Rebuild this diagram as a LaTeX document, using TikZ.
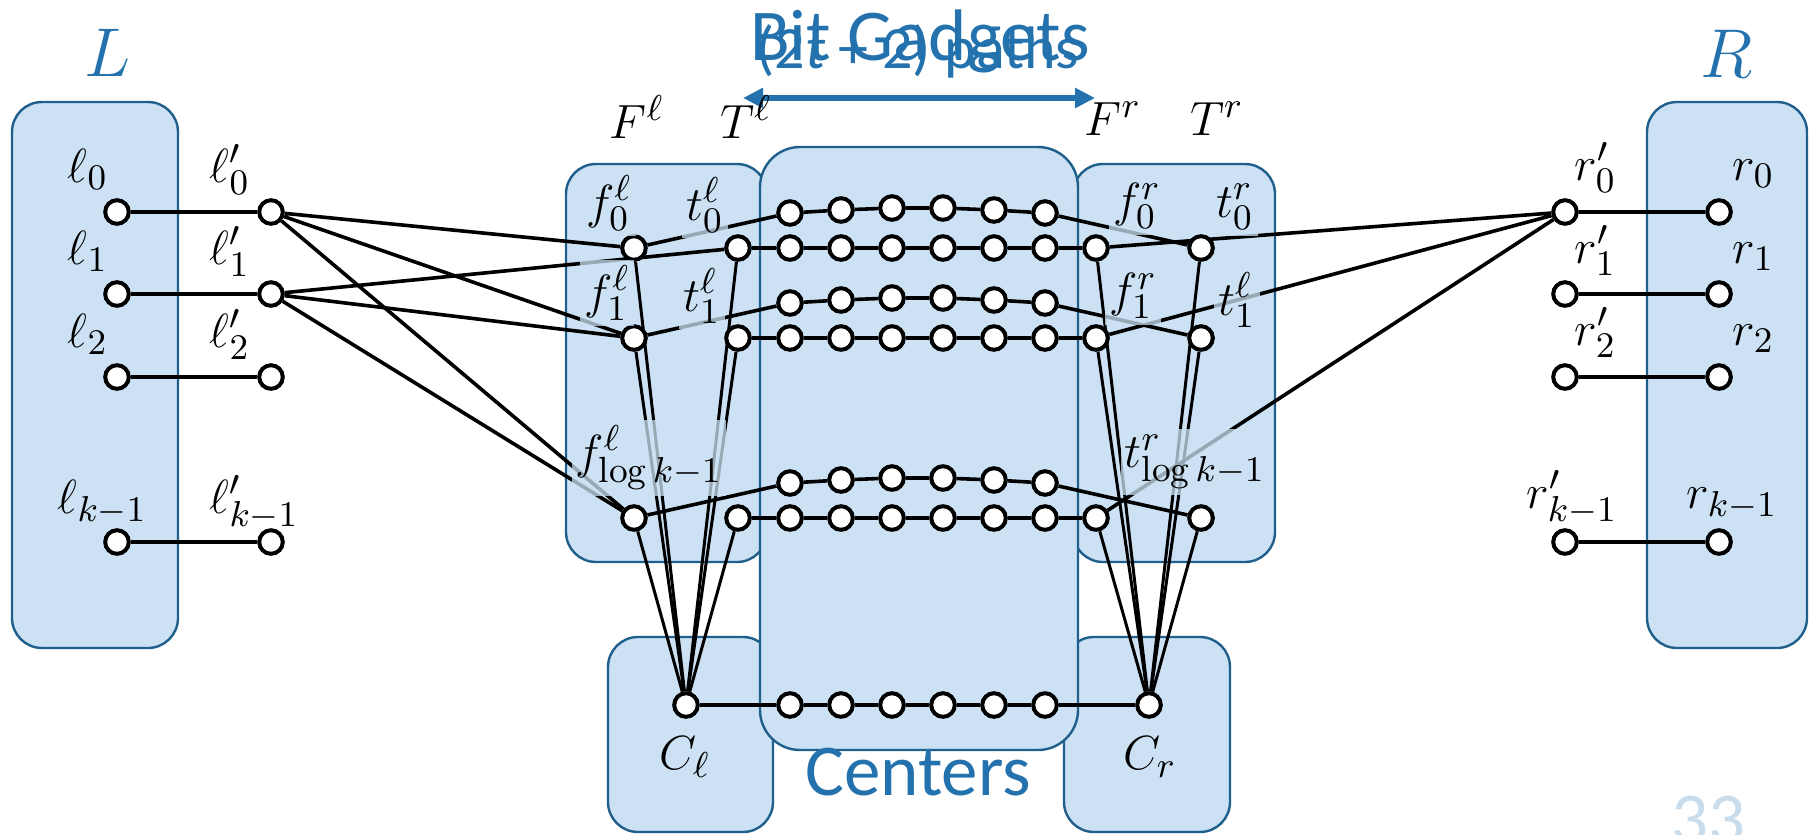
\documentclass[tikz,border=0pt]{standalone}
\usepackage{fontspec}
\newfontfamily\carlito{Carlito}
\usetikzlibrary{arrows.meta}
\definecolor{boxfill}{RGB}{204,226,244}
\definecolor{boxline}{RGB}{31,95,139}
\definecolor{textblue}{RGB}{35,114,173}
\definecolor{pageno}{RGB}{200,220,235}
\pgfdeclarelayer{bg}
\pgfdeclarelayer{wires}
\pgfsetlayers{bg,wires,main}

\begin{document}
\begin{tikzpicture}[x=0.25pt, y=-0.25pt,
      dot/.style={circle, draw, fill=white, line width=1pt, minimum size=5.9pt, inner sep=0pt},
      wire/.style={line width=0.9pt},
      fan/.style={line width=0.75pt},
      group/.style={draw=boxline, fill=boxfill, line width=0.6pt, rounded corners=7.5pt},
      lab/.style={font=\fontsize{13}{15}\selectfont, inner sep=0pt},
      tag/.style={lab, fill=boxfill, fill opacity=0.75, text opacity=1, inner xsep=1pt, inner ysep=1.5pt},
      title/.style={font=\carlito\fontsize{18.25}{20}\selectfont, text=textblue, inner sep=0pt}]

      \useasboundingbox (0,0) rectangle (1810,835);

      \begin{pgfonlayer}{bg}
      \draw[group] (12,102) rectangle (178,648);
      \draw[group] (1647,102) rectangle (1807,648);
      \draw[group] (566,164) rectangle (767,562);
      \draw[group] (1073,164) rectangle (1275,562);
      \draw[group] (608,637) rectangle (773,832);
      \draw[group] (1064,637) rectangle (1230,832);
      \draw[group, rounded corners=10pt] (760,147) rectangle (1078,750);
      \end{pgfonlayer}

      \node[title, anchor=base] (gadgets) at (920,60) {Bit Gadgets};
      \node[title, font=\carlito\fontsize{15}{17}\selectfont, anchor=base] (paths) at (918,68) {(2\textit{t} + 2) paths};
      \coordinate (arrl) at (743,98);
      \coordinate (arrr) at (1095,98);
      \draw[textblue, line width=1.3pt, {Triangle[length=5pt,width=4.8pt]}-{Triangle[length=5pt,width=4.8pt]}] (arrl) -- (arrr);
      \node[title, anchor=base] (centers) at (918,795) {Centers};
      \node[title, text=pageno, anchor=base] (pagenum) at (1708,843) {33};

      \node[lab, font=\fontsize{17}{20}\selectfont, text=textblue, anchor=base] (Ltxt) at (108,77) {$L$};
      \node[lab, font=\fontsize{17}{20}\selectfont, text=textblue, anchor=base] (Rtxt) at (1727,78) {$R$};
      \node[lab, anchor=base] (Fltxt) at (637,138) {$F^\ell$};
      \node[lab, anchor=base] (Tltxt) at (746,138) {$T^\ell$};
      \node[lab, anchor=base] (Frtxt) at (1113,135) {$F^r$};
      \node[lab, anchor=base] (Trtxt) at (1217,135) {$T^r$};

      \foreach \n/\y in {0/212, 1/294, 2/377, k/542} {
        \node[dot] (l\n) at (117,\y) {};
        \node[dot] (lp\n) at (271,\y) {};
        \node[dot] (rp\n) at (1565,\y) {};
        \node[dot] (r\n) at (1719,\y) {};
      }
      \node[lab, anchor=base west] (l0txt) at (67,182) {$\ell_0$};
      \node[lab, anchor=base west] (l1txt) at (67,264) {$\ell_1$};
      \node[lab, anchor=base west] (l2txt) at (67,347) {$\ell_2$};
      \node[lab, anchor=base west] (lktxt) at (57,513) {$\ell_{k-1}$};
      \node[lab, anchor=base west] (lp0txt) at (209,182) {$\ell'_0$};
      \node[lab, anchor=base west] (lp1txt) at (209,264) {$\ell'_1$};
      \node[lab, anchor=base west] (lp2txt) at (209,347) {$\ell'_2$};
      \node[lab, anchor=base west] (lpktxt) at (209,513) {$\ell'_{k-1}$};
      \node[lab, anchor=base west] (rp0txt) at (1574,180) {$r'_0$};
      \node[lab, anchor=base west] (rp1txt) at (1574,263) {$r'_1$};
      \node[lab, anchor=base west] (rp2txt) at (1574,345) {$r'_2$};
      \node[lab, anchor=base west] (rpktxt) at (1526,508) {$r'_{k-1}$};
      \node[lab, anchor=base west] (r0txt) at (1732,180) {$r_0$};
      \node[lab, anchor=base west] (r1txt) at (1732,263) {$r_1$};
      \node[lab, anchor=base west] (r2txt) at (1732,345) {$r_2$};
      \node[lab, anchor=base west] (rktxt) at (1686,508) {$r_{k-1}$};

      \node[dot] (fl0) at (634,248) {};
      \node[dot] (tl0) at (738,248) {};
      \node[dot] (fl1) at (634,338) {};
      \node[dot] (tl1) at (738,338) {};
      \node[dot] (flk) at (634,518) {};
      \node[dot] (tlk) at (738,518) {};
      \node[dot] (fr0) at (1096,248) {};
      \node[dot] (tr0) at (1201,248) {};
      \node[dot] (fr1) at (1096,338) {};
      \node[dot] (tr1) at (1201,338) {};
      \node[dot] (frk) at (1096,518) {};
      \node[dot] (trk) at (1201,518) {};
      \node[dot] (cl) at (686,705) {};
      \node[dot] (cr) at (1149,705) {};
      \foreach \i/\x/\dy in {1/790/35, 2/841/38, 3/892/40, 4/943/40, 5/994/38, 6/1045/35} {
        \node[dot] (a\i) at (\x,{248-\dy}) {};
        \node[dot] (b\i) at (\x,248) {};
        \node[dot] (c\i) at (\x,{338-\dy}) {};
        \node[dot] (d\i) at (\x,338) {};
        \node[dot] (e\i) at (\x,{518-\dy}) {};
        \node[dot] (f\i) at (\x,518) {};
        \node[dot] (g\i) at (\x,705) {};
      }

      \node[tag] (fl0txt) at (609,203) {$f_0^\ell$};
      \node[tag] (tl0txt) at (705,205) {$t_0^\ell$};
      \node[tag] (fl1txt) at (607,293) {$f_1^\ell$};
      \node[tag] (tl1txt) at (702,296) {$t_1^\ell$};
      \node[tag] (flktxt) at (649,458) {$f_{\log k-1}^\ell$};
      \node[tag] (fr0txt) at (1137,206) {$f_0^r$};
      \node[tag] (tr0txt) at (1235,207) {$t_0^r$};
      \node[tag] (fr1txt) at (1133,296) {$f_1^r$};
      \node[tag] (tr1txt) at (1237,300) {$t_1^\ell$};
      \node[tag] (trktxt) at (1195,462) {$t_{\log k-1}^r$};
      \node[lab] (cltxt) at (685,757) {$C_\ell$};
      \node[lab] (crtxt) at (1150,757) {$C_r$};

      \begin{pgfonlayer}{wires}
      \foreach \n in {0,1,2,k} {
        \draw[wire] (l\n) -- (lp\n);
        \draw[wire] (rp\n) -- (r\n);
      }
      \draw[wire] (lp0) -- (fl0) (lp0) -- (fl1) (lp0) -- (flk);
      \draw[wire] (lp1) -- (tl0) (lp1) -- (fl1) (lp1) -- (flk);
      \draw[wire] (rp0) -- (fr0) (rp0) -- (fr1) (rp0) -- (frk);
      \draw[wire] (fl0) -- (a1) -- (a2) -- (a3) -- (a4) -- (a5) -- (a6) -- (tr0);
      \draw[wire] (tl0) -- (b1) -- (b2) -- (b3) -- (b4) -- (b5) -- (b6) -- (fr0);
      \draw[wire] (fl1) -- (c1) -- (c2) -- (c3) -- (c4) -- (c5) -- (c6) -- (tr1);
      \draw[wire] (tl1) -- (d1) -- (d2) -- (d3) -- (d4) -- (d5) -- (d6) -- (fr1);
      \draw[wire] (flk) -- (e1) -- (e2) -- (e3) -- (e4) -- (e5) -- (e6) -- (trk);
      \draw[wire] (tlk) -- (f1) -- (f2) -- (f3) -- (f4) -- (f5) -- (f6) -- (frk);
      \draw[wire] (cl) -- (g1) -- (g2) -- (g3) -- (g4) -- (g5) -- (g6) -- (cr);
      \foreach \v in {fl0,fl1,flk,tl0,tl1,tlk}
        \draw[fan] (cl) -- (\v);
      \foreach \v in {fr0,fr1,frk,tr0,tr1,trk}
        \draw[fan] (cr) -- (\v);
      \end{pgfonlayer}

\end{tikzpicture}
\end{document}
